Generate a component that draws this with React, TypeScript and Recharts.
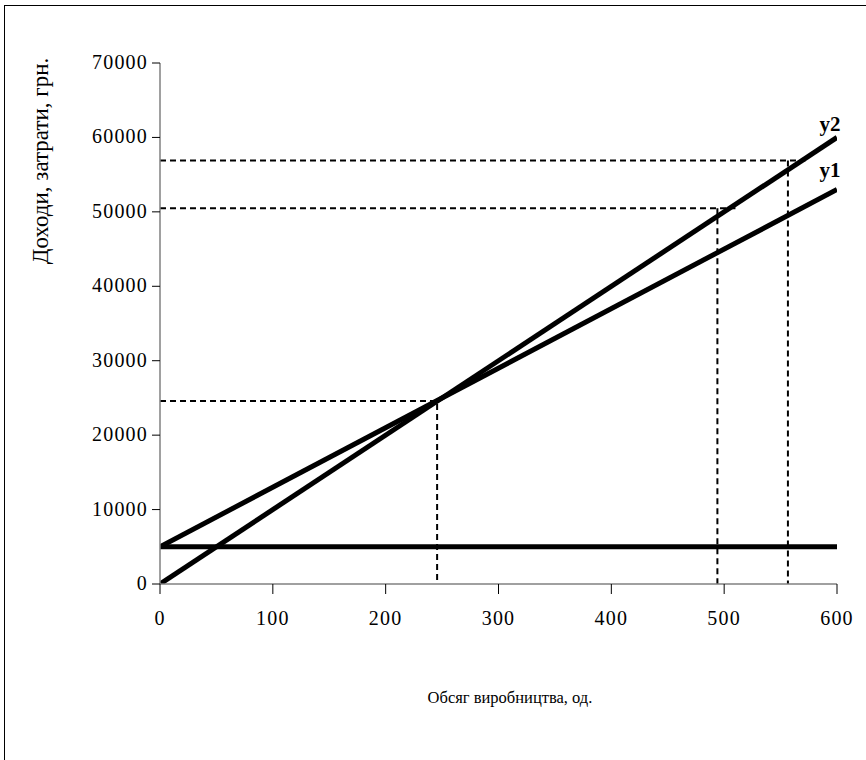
import React from 'react';
import { LineChart, Line, XAxis, YAxis } from 'recharts';

const xTicks = [0, 100, 200, 300, 400, 500, 600];
const yTicks = [0, 10000, 20000, 30000, 40000, 50000, 60000, 70000];

const volume = [0, 600];
const incomeY1 = [5000, 53000];
const costY2 = [0, 60000];
const fixedCost = [5000, 5000];

const guideLow = [
  { x: 0, y: 24580 },
  { x: 245.6, y: 24580 },
  { x: 245.6, y: 0 },
];
const guideMidH = [
  { x: 0, y: 50480 },
  { x: 510, y: 50480 },
];
const guideMidV = [
  { x: 494, y: 50480 },
  { x: 494, y: 0 },
];
const guideTopH = [
  { x: 0, y: 56900 },
  { x: 572, y: 56900 },
];
const guideTopV = [
  { x: 556.5, y: 56900 },
  { x: 556.5, y: 0 },
];

const toPts = (ys: number[]) => volume.map((x, i) => ({ x, y: ys[i] }));
const y1Data = toPts(incomeY1);
const y2Data = toPts(costY2);
const fixedData = toPts(fixedCost);

const serif = '"Liberation Serif", "Times New Roman", serif';

const endLabel = (text: string, lastIndex: number, dy: number) => (props: any) => {
  if (props.index !== lastIndex) return null;
  return (
    <text
      x={props.x - 7}
      y={props.y + dy}
      textAnchor="middle"
      fontFamily={serif}
      fontWeight="bold"
      fontSize={21}
      fill="#000"
    >
      {text}
    </text>
  );
};

const XTick = (props: any) => {
  const { x, y, payload } = props;
  return (
    <text
      x={x}
      y={y + 13}
      textAnchor="middle"
      fontFamily={serif}
      fontSize={20}
      letterSpacing={1.2}
      fill="#000"
    >
      {payload.value}
    </text>
  );
};

const YTick = (props: any) => {
  const { x, y, payload } = props;
  return (
    <text
      x={x + 1}
      y={y + 6}
      textAnchor="end"
      fontFamily={serif}
      fontSize={20}
      letterSpacing={1.2}
      fill="#000"
    >
      {payload.value}
    </text>
  );
};

const dashProps = {
  type: 'linear' as const,
  dataKey: 'y',
  stroke: '#000',
  strokeWidth: 2,
  strokeDasharray: '6 4',
  dot: false,
  activeDot: false,
  isAnimationActive: false,
};

export default function App() {
  return (
    <div
      style={{
        position: 'absolute',
        left: 0,
        top: 0,
        width: 866,
        height: 760,
        overflow: 'hidden',
        background: '#fff',
      }}
    >
      <div
        style={{
          position: 'absolute',
          left: 4,
          top: 5,
          width: 900,
          height: 800,
          borderLeft: '1.5px solid #000',
          borderTop: '1.5px solid #000',
        }}
      />
      <div style={{ position: 'absolute', left: 0, top: 0 }}>
        <LineChart
          width={866}
          height={760}
          margin={{ top: 63, right: 29, bottom: 146, left: 100 }}
        >
          <XAxis
            type="number"
            dataKey="x"
            domain={[0, 600]}
            ticks={xTicks}
            interval={0}
            allowDataOverflow
            stroke="#808080"
            strokeWidth={1.5}
            tickLine={{ stroke: '#000', strokeWidth: 1 }}
            tickSize={10}
            tickMargin={18}
            height={30}
            tick={<XTick />}
            label={{
              content: () => (
                <text
                  x={510}
                  y={703}
                  textAnchor="middle"
                  fontFamily={serif}
                  fontSize={16.5}
                  fill="#000"
                >
                  Обсяг виробництва, од.
                </text>
              ),
            }}
          />
          <YAxis
            type="number"
            domain={[0, 70000]}
            ticks={yTicks}
            interval={0}
            allowDataOverflow
            width={60}
            stroke="#808080"
            strokeWidth={1.5}
            tickLine={{ stroke: '#000', strokeWidth: 1 }}
            tickSize={8}
            tickMargin={5}
            tick={<YTick />}
            label={{
              content: () => (
                <text
                  x={48}
                  y={161}
                  transform="rotate(-90 48 161)"
                  textAnchor="middle"
                  fontFamily={serif}
                  fontSize={23}
                  fill="#000"
                >
                  Доходи, затрати, грн.
                </text>
              ),
            }}
          />
          <Line data={guideLow} {...dashProps} />
          <Line data={guideMidH} {...dashProps} />
          <Line data={guideMidV} {...dashProps} />
          <Line data={guideTopH} {...dashProps} />
          <Line data={guideTopV} {...dashProps} />
          <Line
            data={fixedData}
            type="linear"
            dataKey="y"
            stroke="#000"
            strokeWidth={5}
            dot={false}
            activeDot={false}
            isAnimationActive={false}
          />
          <Line
            data={y1Data}
            type="linear"
            dataKey="y"
            stroke="#000"
            strokeWidth={5}
            dot={false}
            activeDot={false}
            isAnimationActive={false}
            label={endLabel('y1', 1, -13)}
          />
          <Line
            data={y2Data}
            type="linear"
            dataKey="y"
            stroke="#000"
            strokeWidth={5}
            dot={false}
            activeDot={false}
            isAnimationActive={false}
            label={endLabel('y2', 1, -6)}
          />
        </LineChart>
      </div>
    </div>
  );
}
